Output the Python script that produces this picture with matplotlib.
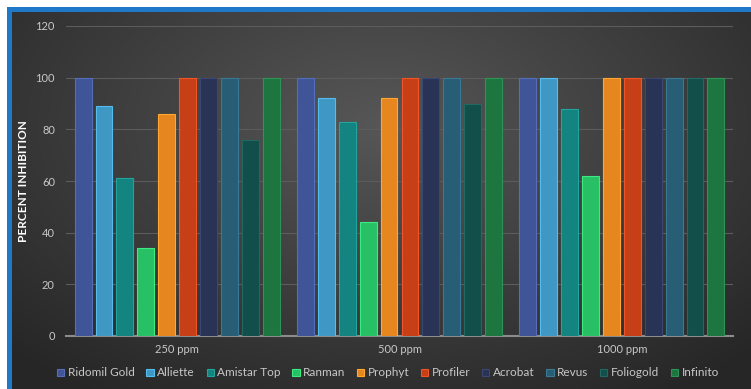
import matplotlib
matplotlib.use('Agg')
import matplotlib.pyplot as plt
import numpy as np
from matplotlib.patches import Rectangle
from matplotlib.colors import to_rgb

plt.rcParams['font.family'] = ['Lato', 'DejaVu Sans']

# 数据
groups = ['250 ppm', '500 ppm', '1000 ppm']
products = ['Ridomil Gold', 'Alliette', 'Amistar Top', 'Ranman', 'Prophyt',
            'Profiler', 'Acrobat', 'Revus', 'Foliogold', 'Infinito']
ridomil = [100, 100, 100]
alliette = [89, 92, 100]
amistar = [61, 83, 88]
ranman = [34, 44, 62]
prophyt = [86, 92, 100]
profiler = [100, 100, 100]
acrobat = [100, 100, 100]
revus = [100, 100, 100]
foliogold = [76, 90, 100]
infinito = [100, 100, 100]
series = [ridomil, alliette, amistar, ranman, prophyt,
          profiler, acrobat, revus, foliogold, infinito]
colors = ['#3f5597', '#3f98c4', '#13847f', '#28c064', '#e5861f',
          '#c63f17', '#283356', '#275d75', '#124f4b', '#1d7640']
yticks = [0, 20, 40, 60, 80, 100, 120]

W, H = 751, 389
fig = plt.figure(figsize=(W / 100, H / 100), dpi=100, facecolor='white')

# 蓝色边框
fig.patches.append(Rectangle((7 / W, 0), 1, 1 - 7 / H, transform=fig.transFigure,
                             facecolor='#1f78c8', edgecolor='none', zorder=-5))

# 深色渐变背景
bg = fig.add_axes([12 / W, 0, 1 - 12 / W, 1 - 12 / H], zorder=0)
yy, xx = np.mgrid[0:1:200j, 0:1:400j]
d = np.sqrt(((xx - 0.5) / 0.75) ** 2 + ((yy - 0.3) / 0.9) ** 2)
shade = np.clip(0.34 - 0.2 * d, 0.15, 0.34)
bg.imshow(np.dstack([shade] * 3), aspect='auto', extent=[0, 1, 1, 0])
bg.set_xlim(0, 1)
bg.set_ylim(1, 0)
bg.axis('off')

ax = fig.add_axes([66 / W, 1 - 336 / H, (733 - 66) / W, (336 - 26) / H], zorder=1)
ax.patch.set_alpha(0)

n = len(series)
slot = 0.094
bw = 0.076
x = np.arange(len(groups))
for i, (vals, c, name) in enumerate(zip(series, colors, products)):
    off = (i - (n - 1) / 2) * slot
    edge = tuple(min(1, v * 1.15 + 0.05) for v in to_rgb(c))
    ax.bar(x + off, vals, bw, color=c, edgecolor=edge, linewidth=0.8,
           label=name, zorder=3)

ax.set_xlim(-0.5, 2.5)
ax.set_ylim(0, 120)
ax.set_yticks(yticks)
ax.set_xticks(x)
ax.set_xticklabels(groups)
ax.tick_params(axis='both', length=0, colors='#c8c8c8', labelsize=8)
ax.tick_params(axis='y', pad=8)
ax.tick_params(axis='x', pad=6)
ax.grid(axis='y', color='#5c5c5c', linewidth=0.8, zorder=0)
for s in ['top', 'right', 'left']:
    ax.spines[s].set_visible(False)
ax.spines['bottom'].set_color('#8c8c8c')
ax.spines['bottom'].set_linewidth(1.5)

fig.text(24 / W, 1 - 181 / H, 'PERCENT INHIBITION', rotation=90, ha='center',
         va='center', color='white', fontsize=8.5, fontweight='bold')

leg = fig.legend(loc='center', bbox_to_anchor=(388 / W, 1 - 373 / H), ncol=10,
                 frameon=False, fontsize=8.5, handlelength=0.6, handleheight=0.6,
                 handletextpad=0.3, columnspacing=1.0, labelcolor='#c8c8c8')

plt.savefig('out.png', dpi=100, facecolor='white')
